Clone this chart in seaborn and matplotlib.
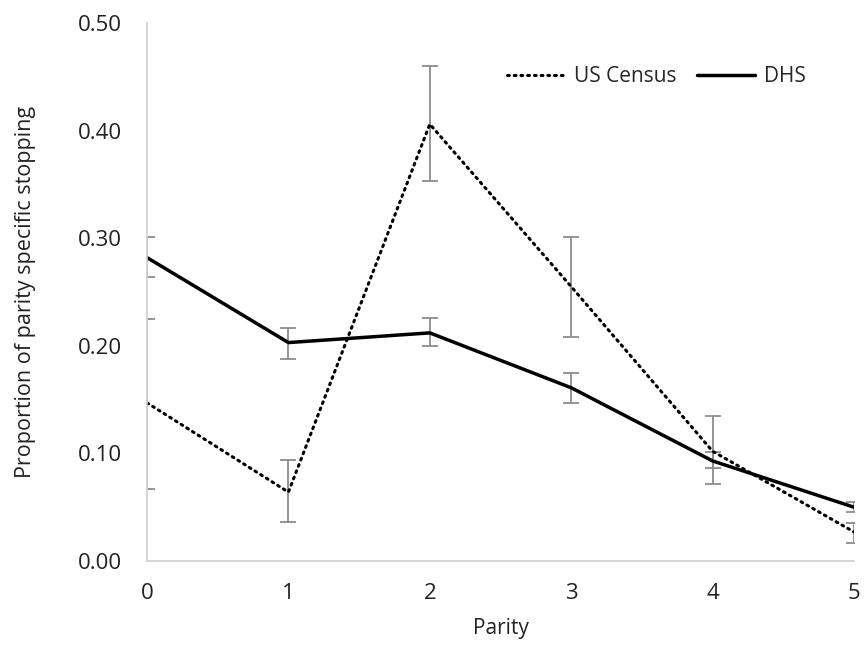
import matplotlib
matplotlib.use("Agg")
import matplotlib.pyplot as plt
import seaborn as sns
import pandas as pd

parity = [0, 1, 2, 3, 4, 5]
census = [0.147, 0.064, 0.406, 0.255, 0.102, 0.027]
census_lo = [0.067, 0.036, 0.353, 0.208, 0.072, 0.017]
census_hi = [0.225, 0.094, 0.460, 0.301, 0.135, 0.035]
dhs = [0.282, 0.203, 0.212, 0.161, 0.093, 0.050]
dhs_lo = [0.264, 0.188, 0.200, 0.147, 0.086, 0.046]
dhs_hi = [0.301, 0.217, 0.226, 0.175, 0.101, 0.055]
y_ticks = [0.0, 0.1, 0.2, 0.3, 0.4, 0.5]

sns.set_theme(style="white")
plt.rcParams['font.family'] = ['Open Sans', 'DejaVu Sans']

fig = plt.figure(figsize=(8.64, 6.47), dpi=100)
ax = fig.add_axes([147/864, 1 - 561/647, (854-147)/864, (561-23)/647])

df = pd.DataFrame({"Parity": parity * 2,
                   "value": census + dhs,
                   "series": ["US Census"] * 6 + ["DHS"] * 6})

sns.lineplot(data=df[df.series == "US Census"], x="Parity", y="value", ax=ax,
             color="black", linewidth=2.2, linestyle=(0, (0.6, 1.6)),
             dash_capstyle="round", label="US Census")
sns.lineplot(data=df[df.series == "DHS"], x="Parity", y="value", ax=ax,
             color="black", linewidth=2.5, label="DHS")

for vals, lo, hi in [(census, census_lo, census_hi), (dhs, dhs_lo, dhs_hi)]:
    yerr = [[v - l for v, l in zip(vals, lo)], [h - v for v, h in zip(vals, hi)]]
    ax.errorbar(parity, vals, yerr=yerr, fmt="none", ecolor="#8c8c8c",
                elinewidth=1.3, capsize=6, capthick=1.3, zorder=1)

ax.set_xlim(0, 5)
ax.set_ylim(0, 0.5)
ax.set_yticks(y_ticks)
ax.set_yticklabels([f"{t:.2f}" for t in y_ticks])
ax.set_xticks(parity)
ax.tick_params(axis="y", labelsize=16, length=0, pad=18, colors="#222222")
ax.tick_params(axis="x", labelsize=16, length=0, pad=16, colors="#222222")
ax.set_xlabel("Parity", fontsize=15, color="#222222", labelpad=10)
ax.set_ylabel("Proportion of parity specific stopping", fontsize=15.5,
              color="#222222", labelpad=30)

for s in ["top", "right"]:
    ax.spines[s].set_visible(False)
for s in ["left", "bottom"]:
    ax.spines[s].set_color("#d0d0d0")
    ax.spines[s].set_linewidth(1.2)

leg = ax.legend(loc="upper right", bbox_to_anchor=(0.958, 0.955), frameon=False,
                ncol=2, fontsize=15, handlelength=2.8, columnspacing=1.0,
                handletextpad=0.4)

fig.savefig("out.png", dpi=100)
